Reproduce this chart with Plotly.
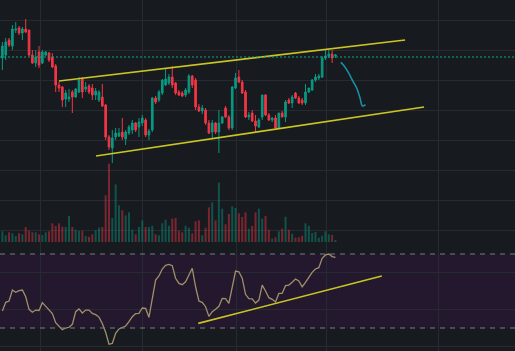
import plotly.graph_objects as go

# ---- data (price units are arbitrary) ----
opens = [192,195,210,204,220,222,217,221,220,195,
         187,198,187,195,197,193,184,165,163,151,
         151,158,153,158,171,161,164,162,155,150,
         153,145,113,102,113,114,118,111,117,120,
         127,123,127,130,115,120,152,150,157,165,
         167,173,167,158,157,155,158,174,170,143,
         139,140,127,118,127,118,127,142,133,122,
         162,173,168,158,133,137,129,123,133,155,
         135,130,132,122,137,133,150,147,157,152,
         150,147,158,160,170,172,173,192,194,196,
         194]
highs = [208,212,212,225,228,224,223,231,220,200,
         200,204,200,199,198,197,186,168,164,160,
         161,160,162,173,173,168,166,166,162,160,
         166,146,115,120,122,122,132,120,125,130,
         128,132,135,132,121,153,154,160,171,182,
         176,184,168,160,159,162,176,175,172,146,
         145,142,130,130,128,140,134,144,135,164,
         177,180,170,160,138,140,135,132,155,156,
         137,133,135,137,139,150,152,155,158,154,
         152,166,162,171,176,176,194,201,201,200,
         196]
lows = [180,190,203,200,217,215,210,217,194,186,
        183,182,186,194,188,182,158,158,143,143,
        148,137,152,157,152,158,156,150,150,148,
        143,110,100,87,110,113,110,105,115,116,
        118,113,124,113,110,118,146,148,155,164,
        165,162,155,154,153,153,156,162,140,138,
        136,125,116,112,116,97,126,132,120,120,
        161,167,156,132,130,128,118,122,130,134,
        129,128,122,121,133,128,146,142,151,146,
        145,145,157,159,168,170,172,190,192,187,
        192]
closes = [204,208,205,221,221,217,221,218,195,187,
          193,185,198,198,190,183,165,162,150,157,
          153,153,161,170,158,163,158,155,159,158,
          144,113,103,112,117,117,113,118,123,127,
          120,128,132,115,119,152,148,158,170,171,
          173,165,157,155,154,160,174,165,143,139,
          142,127,117,127,118,127,133,133,122,163,
          172,168,157,133,135,129,124,130,155,135,
          130,132,122,137,133,148,147,153,152,147,
          147,158,162,170,173,174,192,194,196,192,
          195]
volumes = [10.7,6.7,9.7,8.7,6,8.7,7.7,15,11.3,9.7,
           9.7,7.7,7,9.7,10.7,18.7,16,18.7,15.3,15,
           26,15,12.3,11.3,11.3,6,5.3,7.7,11.7,14.3,
           15,46.7,78.4,24,57.7,36.7,31.7,26.7,29.7,12.3,
           7.7,15,21.7,15,15,16.3,7.7,6.7,18.7,22.3,
           16.3,23.3,24,11.3,9.7,16.3,14.3,8.7,20.7,21.7,
           6.7,14.3,34.7,39.7,21.7,59.3,33.3,17.7,28,35.7,
           34,28.7,25,29.7,13.3,16,29.7,33.3,23.3,26,
           12.3,3.3,4.7,10.7,13.3,25.3,12.3,8.3,4.3,4.7,
           6.3,18.7,16.3,9,10,4.3,6.3,10.7,7.7,7,
           2]
rsi = [39.2,43.9,44.6,50.5,49.3,50.2,50.5,46.9,40.1,38.5,
       39.7,39.5,43.7,41.9,40.1,37.8,32.9,30.7,29.1,30.0,
       30.4,32.0,38.8,40.3,38.1,39.7,39.7,37.9,37.2,35.9,
       32.4,27.7,21.2,21.7,27.1,29.5,30.4,31.1,33.4,36.1,
       37.8,37.9,40.8,40.6,35.8,46.0,55.9,58.1,61.9,63.9,
       64.4,63.7,56.9,54.1,53.4,55.0,59.0,62.3,52.3,44.6,
       43.9,41.5,36.3,38.8,40.1,41.7,46.0,45.9,43.3,52.3,
       60.8,60.4,56.9,48.2,45.9,45.7,43.5,45.1,53.2,50.0,
       46.4,45.5,44.1,48.7,48.7,52.9,53.2,54.7,56.5,55.4,
       52.3,54.7,57.8,60.1,61.9,62.6,67.7,69.5,70.0,68.6,
       68.2]
idx = list(range(len(opens)))

# drawings (index, value)
upper_line_x = [17.0, 120.9]
upper_line_y = [169, 210]
lower_line_x = [28.1, 126.6]
lower_line_y = [94, 143]
rsi_line_x = [58.8, 113.9]
rsi_line_y = [32.5, 58.1]
path_x = [101.6, 102.4, 103.9, 105.3, 106.4, 107.4, 108.0, 108.4, 109.0]
path_y = [187.7, 185, 177.3, 168.3, 161.7, 151.7, 144.3, 144, 145.3]
last_price = 193
rsi_upper, rsi_lower = 70, 30
time_grid = [11.3, 42.2, 70.2, 97.2, 130.8]

BG = "#171a1f"
GRID = "#262a31"
UP = "#089981"
DN = "#f23645"
vol_colors = ["rgba(8,153,129,0.45)" if c >= o else "rgba(242,54,69,0.45)"
              for o, c in zip(opens, closes)]

fig = go.Figure()
fig.add_trace(go.Bar(x=idx, y=volumes, marker_color=vol_colors, marker_line_width=0,
                     width=0.6, xaxis="x", yaxis="y", hoverinfo="skip"))
fig.add_trace(go.Candlestick(x=idx, open=opens, high=highs, low=lows, close=closes,
                             xaxis="x", yaxis="y2",
                             increasing=dict(line=dict(color=UP, width=1), fillcolor=UP),
                             decreasing=dict(line=dict(color=DN, width=1), fillcolor=DN),
                             whiskerwidth=0, hoverinfo="skip"))
fig.add_trace(go.Scatter(x=upper_line_x, y=upper_line_y, mode="lines", xaxis="x", yaxis="y2",
                         line=dict(color="#c9c623", width=1.6), hoverinfo="skip"))
fig.add_trace(go.Scatter(x=lower_line_x, y=lower_line_y, mode="lines", xaxis="x", yaxis="y2",
                         line=dict(color="#c9c623", width=1.6), hoverinfo="skip"))
fig.add_trace(go.Scatter(x=path_x, y=path_y, mode="lines", xaxis="x", yaxis="y2",
                         line=dict(color="#1a8ea6", width=1.6, shape="spline"), hoverinfo="skip"))
fig.add_trace(go.Scatter(x=idx, y=rsi, mode="lines", xaxis="x2", yaxis="y3",
                         line=dict(color="#a0906a", width=1.3), hoverinfo="skip"))
fig.add_trace(go.Scatter(x=rsi_line_x, y=rsi_line_y, mode="lines", xaxis="x2", yaxis="y3",
                         line=dict(color="#c9c623", width=1.6), hoverinfo="skip"))

split = (351 - 243) / 351
xr = [-0.72, 153.9]
xcommon = dict(range=xr, showticklabels=False, tickvals=time_grid, showgrid=True,
               gridcolor=GRID, gridwidth=1, zeroline=False, showline=False, ticks="")
fig.update_layout(
    width=515, height=351, margin=dict(l=0, r=0, t=0, b=0),
    paper_bgcolor=BG, plot_bgcolor=BG, showlegend=False, boxgap=0.3,
    xaxis=dict(domain=[0, 1], anchor="y", rangeslider=dict(visible=False), **xcommon),
    xaxis2=dict(domain=[0, 1], anchor="y3", matches="x", **xcommon),
    yaxis=dict(domain=[split, 1], range=[-1, 242], showgrid=False, showticklabels=False,
               zeroline=False),
    yaxis2=dict(domain=[split, 1], overlaying="y", range=[7, 250], tick0=20, dtick=30,
                showgrid=True, gridcolor=GRID, showticklabels=False, zeroline=False),
    yaxis3=dict(domain=[0, split], range=[17.57, 75.95], tick0=0, dtick=20, showgrid=True,
                gridcolor=GRID, showticklabels=False, zeroline=False),
    shapes=[
        dict(type="rect", xref="paper", x0=0, x1=1, yref="y3", y0=rsi_lower, y1=rsi_upper,
             fillcolor="#23182d", line=dict(width=0), layer="below"),
        dict(type="line", xref="paper", x0=0, x1=1, yref="y3", y0=rsi_upper, y1=rsi_upper,
             line=dict(color="#7a7c86", width=1, dash="5px,5px")),
        dict(type="line", xref="paper", x0=0, x1=1, yref="y3", y0=rsi_lower, y1=rsi_lower,
             line=dict(color="#7a7c86", width=1, dash="5px,5px")),
        dict(type="line", xref="paper", x0=0, x1=1, yref="y2", y0=last_price, y1=last_price,
             line=dict(color="#15a68c", width=1, dash="2px,2px")),
    ],
)
fig.write_html("out.html")
